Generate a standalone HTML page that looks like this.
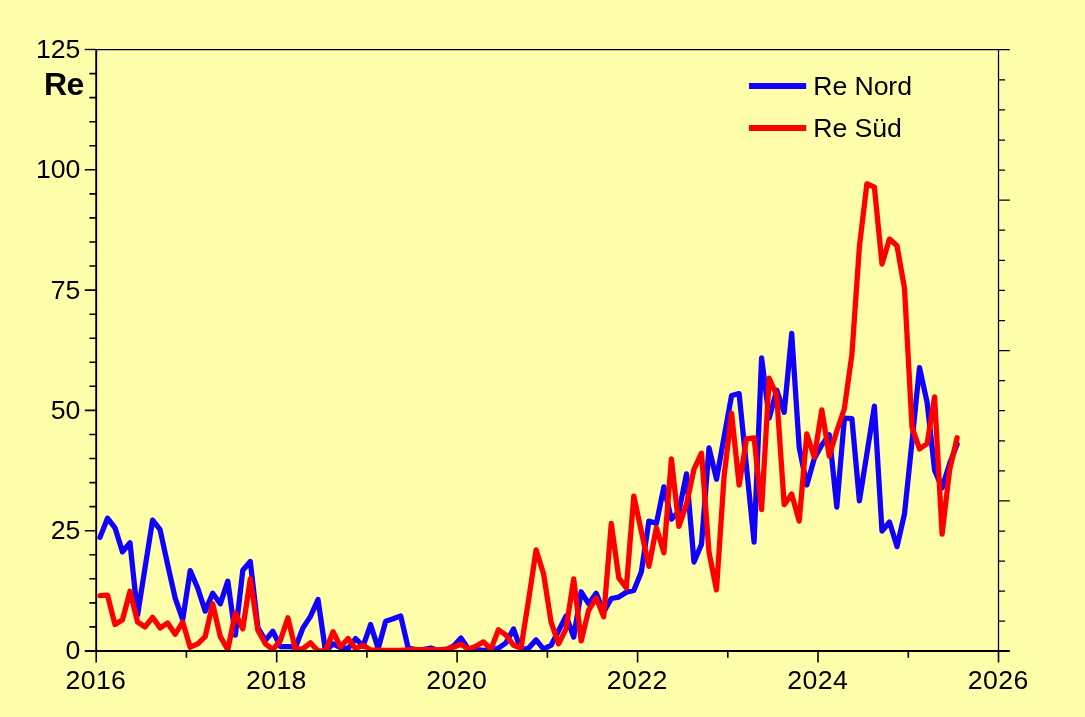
<!DOCTYPE html>
<html><head><meta charset="utf-8"><title>Re Nord / Re Süd</title>
<style>
html,body{margin:0;padding:0;background:#fefeaa;}
body{width:1085px;height:717px;overflow:hidden;}
svg{display:block;}
text{font-family:"Liberation Sans",Arial,sans-serif;fill:#000;}
</style></head><body>
<svg width="1085" height="717" viewBox="0 0 1085 717">
<rect width="1085" height="717" fill="#fefeaa"/>
<defs><clipPath id="c"><rect x="96.8" y="49.5" width="901.7" height="601.0"/></clipPath></defs>
<g clip-path="url(#c)" fill="none" stroke-width="5.3" stroke-linejoin="round" stroke-linecap="round">
<polyline stroke="#1200ff" points="100.0,537.4 107.5,518.2 115.0,527.8 122.5,551.9 130.0,542.7 137.6,614.9 145.1,567.3 152.6,520.1 160.1,529.7 167.6,564.4 175.2,598.1 182.7,619.7 190.2,570.6 197.7,588.0 205.2,611.1 212.7,593.3 220.3,603.8 227.8,581.2 235.3,635.1 242.8,570.2 250.3,561.5 257.9,627.9 265.4,640.4 272.9,631.3 280.4,646.7 287.9,646.7 295.5,647.2 303.0,627.9 310.5,616.4 318.0,599.5 325.5,651.0 333.1,643.8 340.6,647.6 348.1,648.6 355.6,638.5 363.1,646.2 370.6,624.5 378.2,648.6 385.7,621.2 393.2,618.8 400.7,615.9 408.2,648.1 415.8,649.6 423.3,649.6 430.8,648.1 438.3,650.5 445.8,650.0 453.4,646.2 460.9,638.0 468.4,649.1 475.9,649.6 483.4,650.5 491.0,650.0 498.5,648.1 506.0,642.8 513.5,628.9 521.0,650.0 528.6,648.1 536.1,639.9 543.6,649.1 551.1,645.2 558.6,630.8 566.1,615.9 573.7,637.0 581.2,591.8 588.7,603.8 596.2,593.3 603.7,612.0 611.3,598.5 618.8,597.1 626.3,592.3 633.8,590.4 641.3,572.1 648.9,521.1 656.4,523.5 663.9,486.9 671.4,519.2 678.9,511.5 686.5,473.9 694.0,562.0 701.5,544.2 709.0,447.9 716.5,479.2 724.1,436.9 731.6,395.5 739.1,393.6 746.6,468.1 754.1,542.2 761.6,357.9 769.2,418.1 776.7,390.2 784.2,412.3 791.7,333.4 799.2,447.5 806.8,485.0 814.3,458.5 821.8,445.0 829.3,434.9 836.8,507.1 844.4,418.1 851.9,418.6 859.4,500.9 866.9,453.7 874.4,406.1 882.0,531.2 889.5,522.0 897.0,546.6 904.5,513.9 912.0,441.7 919.5,367.6 927.1,402.2 934.6,470.1 942.1,487.9 949.6,463.8 957.1,444.1"/>
<polyline stroke="#ff0000" points="100.0,595.7 107.5,595.2 115.0,624.5 122.5,619.7 130.0,591.3 137.6,622.1 145.1,626.9 152.6,617.3 160.1,627.9 167.6,623.1 175.2,634.2 182.7,622.1 190.2,647.2 197.7,643.8 205.2,636.6 212.7,603.8 220.3,636.6 227.8,649.6 235.3,613.0 242.8,628.9 250.3,578.8 257.9,630.3 265.4,643.8 272.9,649.6 280.4,640.4 287.9,617.8 295.5,649.6 303.0,648.6 310.5,642.8 318.0,651.0 325.5,651.0 333.1,631.8 340.6,646.7 348.1,638.5 355.6,648.6 363.1,645.2 370.6,650.0 378.2,650.5 385.7,650.5 393.2,650.5 400.7,650.5 408.2,650.0 415.8,649.6 423.3,649.6 430.8,649.6 438.3,650.0 445.8,649.1 453.4,647.2 460.9,644.3 468.4,649.1 475.9,646.2 483.4,641.9 491.0,649.1 498.5,629.8 506.0,635.1 513.5,645.2 521.0,648.1 528.6,600.0 536.1,549.9 543.6,574.0 551.1,622.1 558.6,643.8 566.1,628.9 573.7,578.8 581.2,640.9 588.7,610.1 596.2,598.1 603.7,616.8 611.3,523.5 618.8,577.9 626.3,588.0 633.8,496.1 641.3,531.2 648.9,566.3 656.4,527.8 663.9,552.8 671.4,459.0 678.9,526.4 686.5,504.2 694.0,469.1 701.5,453.2 709.0,551.9 716.5,589.9 724.1,476.3 731.6,413.3 739.1,485.0 746.6,438.8 754.1,437.8 761.6,509.5 769.2,378.2 776.7,395.5 784.2,504.7 791.7,494.1 799.2,521.1 806.8,434.0 814.3,457.1 821.8,409.9 829.3,456.1 836.8,431.1 844.4,408.5 851.9,354.6 859.4,246.8 866.9,183.8 874.4,187.1 882.0,264.1 889.5,239.1 897.0,245.8 904.5,288.2 912.0,427.2 919.5,448.9 927.1,443.6 934.6,396.9 942.1,534.1 949.6,470.1 957.1,437.8"/>
</g>
<g stroke="#000" stroke-width="1.25" fill="none">
<path d="M96.2 49.6H1009.8"/>
<path d="M998.5 49.5V651.0"/>
<path d="M998.5 621.2h6.6M998.5 591.1h6.6M998.5 561.1h6.6M998.5 531.0h6.6M998.5 500.9h11.3M998.5 470.9h6.6M998.5 440.8h6.6M998.5 410.7h6.6M998.5 380.6h6.6M998.5 350.6h11.3M998.5 320.5h6.6M998.5 290.4h6.6M998.5 260.3h6.6M998.5 230.2h6.6M998.5 200.2h11.3M998.5 170.1h6.6M998.5 140.0h6.6M998.5 109.9h6.6M998.5 79.9h6.6"/>
</g>
<g stroke="#000" stroke-width="1.9" fill="none">
<path d="M96.2 49.0V651.0"/>
<path d="M84.8 651.0H1009.8"/>
<path d="M84.8 49.5H96.2" stroke-width="1.4"/>
<path stroke-width="1.6" d="M89.4 626.9h6.8M89.4 602.9h6.8M89.4 578.8h6.8M89.4 554.8h6.8M84.8 530.7h11.4M89.4 506.6h6.8M89.4 482.6h6.8M89.4 458.5h6.8M89.4 434.5h6.8M84.8 410.4h11.4M89.4 386.3h6.8M89.4 362.3h6.8M89.4 338.2h6.8M89.4 314.2h6.8M84.8 290.1h11.4M89.4 266.0h6.8M89.4 242.0h6.8M89.4 217.9h6.8M89.4 193.9h6.8M84.8 169.8h11.4M89.4 145.7h6.8M89.4 121.7h6.8M89.4 97.6h6.8M89.4 73.6h6.8"/>
<path stroke-width="1.6" d="M96.2 651.0v11.6M186.4 651.0v6.8M276.7 651.0v11.6M366.9 651.0v6.8M457.1 651.0v11.6M547.4 651.0v6.8M637.6 651.0v11.6M727.8 651.0v6.8M818.0 651.0v11.6M908.3 651.0v6.8M998.5 651.0v11.6"/>
</g>
<g font-size="26.67px" text-anchor="end">
<text x="80.4" y="659.4">0</text>
<text x="80.4" y="539.1">25</text>
<text x="80.4" y="418.8">50</text>
<text x="80.4" y="298.5">75</text>
<text x="80.4" y="178.2">100</text>
<text x="80.4" y="57.9">125</text>
</g>
<g font-size="26.67px" letter-spacing="0.4" text-anchor="middle">
<text x="95.9" y="688.7">2016</text>
<text x="276.4" y="688.7">2018</text>
<text x="456.8" y="688.7">2020</text>
<text x="637.3" y="688.7">2022</text>
<text x="817.7" y="688.7">2024</text>
<text x="998.2" y="688.7">2026</text>
</g>
<text x="43.9" y="95.2" font-size="32px" font-weight="bold" letter-spacing="-0.5">Re</text>
<path d="M749 86H806.2" stroke="#1200ff" stroke-width="6" fill="none"/>
<path d="M749 128H806.2" stroke="#ff0000" stroke-width="6" fill="none"/>
<text x="813.3" y="95.1" font-size="26.67px" letter-spacing="-0.1">Re Nord</text>
<text x="813.3" y="137.1" font-size="26.67px" letter-spacing="-0.1">Re Süd</text>
</svg>
</body></html>
